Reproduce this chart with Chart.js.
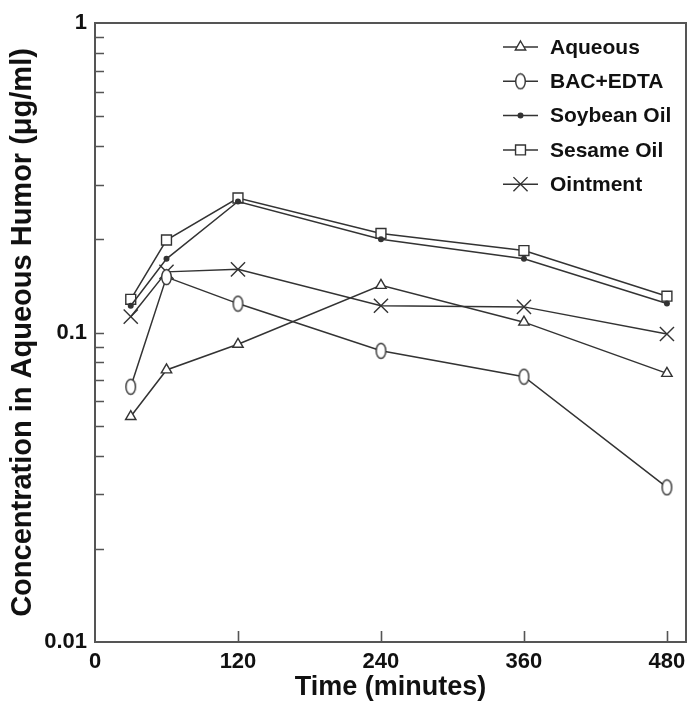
<!DOCTYPE html>
<html>
<head>
<meta charset="utf-8">
<script src="https://cdn.jsdelivr.net/npm/chart.js@4.4.1/dist/chart.umd.min.js"></script>
<style>
    html, body { margin: 0; padding: 0; background: #fff; }
    canvas { display: block; }
</style>
</head>
<body>
<canvas id="chart" width="689" height="704"></canvas>
<script>
// time points (minutes)
const times = [30, 60, 120, 240, 360, 480];

// concentrations (ug/ml)
const aqueous  = [0.0535, 0.0757, 0.0916, 0.142, 0.108, 0.0738];
const bacEdta  = [0.0668, 0.151, 0.124, 0.0873, 0.0720, 0.0316];
const soybean  = [0.122, 0.173, 0.265, 0.200, 0.173, 0.124];
const sesame   = [0.128, 0.199, 0.272, 0.209, 0.184, 0.131];
const ointment = [0.1125, 0.157, 0.160, 0.122, 0.121, 0.0989];

const seriesNames = ['Aqueous', 'BAC+EDTA', 'Soybean Oil', 'Sesame Oil', 'Ointment'];
const xTicks = [0, 120, 240, 360, 480];
const yTicks = [0.01, 0.1, 1];

const lineColor = '#333333';
const axisColor = '#555555';

// tall oval marker for BAC+EDTA
const oval = document.createElement('canvas');
oval.width = 13;
oval.height = 18;
(() => {
    const c = oval.getContext('2d');
    c.fillStyle = '#fff';
    c.strokeStyle = lineColor;
    c.lineWidth = 1.4;
    c.beginPath();
    c.ellipse(6.5, 9, 4.8, 7.5, 0, 0, Math.PI * 2);
    c.fill();
    c.stroke();
})();

function series(label, values, style, radius, fill) {
    return {
        label: label,
        data: times.map((t, i) => ({ x: t, y: values[i] })),
        borderColor: lineColor,
        borderWidth: 1.5,
        pointStyle: style,
        pointRadius: radius,
        pointBorderColor: lineColor,
        pointBackgroundColor: fill,
        pointBorderWidth: 1.4,
        pointHoverRadius: radius,
        tension: 0
    };
}

const datasets = [
    series(seriesNames[0], aqueous, 'triangle', 6, '#fff'),
    series(seriesNames[1], bacEdta, oval, 7, '#fff'),
    series(seriesNames[2], soybean, 'circle', 2.3, lineColor),
    series(seriesNames[3], sesame, 'rect', 7, '#fff'),
    series(seriesNames[4], ointment, 'crossRot', 10, '#fff')
];

// frame, inward ticks and legend
const framePlugin = {
    id: 'frame',
    afterDatasetsDraw(chart) {
        const { ctx, chartArea: a, scales } = chart;
        ctx.save();
        ctx.strokeStyle = axisColor;
        ctx.lineWidth = 2;
        ctx.strokeRect(a.left, a.top, a.right - a.left, a.bottom - a.top);

        // y minor ticks
        ctx.lineWidth = 1.6;
        ctx.beginPath();
        for (let d = 0.01; d < 1; d *= 10) {
            for (let k = 1; k <= 9; k++) {
                const v = k * d;
                if (v <= 0.01 + 1e-9) continue;
                const y = Math.round(scales.y.getPixelForValue(v)) + 0.5;
                ctx.moveTo(a.left, y);
                ctx.lineTo(a.left + 9, y);
            }
        }
        // x ticks
        xTicks.slice(1).forEach(t => {
            const x = Math.round(scales.x.getPixelForValue(t)) + 0.5;
            ctx.moveTo(x, a.bottom);
            ctx.lineTo(x, a.bottom - 11);
        });
        ctx.stroke();

        // legend
        const x0 = 503, x1 = 538, tx = 550;
        ctx.font = 'bold 21px "Liberation Sans", Arial, sans-serif';
        ctx.textBaseline = 'middle';
        chart.data.datasets.forEach((ds, i) => {
            const y = 47 + i * 34.3;
            ctx.strokeStyle = lineColor;
            ctx.lineWidth = 1.5;
            ctx.beginPath();
            ctx.moveTo(x0, y);
            ctx.lineTo(x1, y);
            ctx.stroke();
            ctx.fillStyle = ds.pointBackgroundColor;
            ctx.lineWidth = 1.4;
            Chart.helpers.drawPoint(ctx, {
                pointStyle: ds.pointStyle,
                radius: ds.pointRadius,
                borderWidth: 1.4,
                rotation: 0
            }, (x0 + x1) / 2, y);
            ctx.fillStyle = '#111';
            ctx.fillText(ds.label, tx, y + 1);
        });
        ctx.restore();
    }
};

const tickFont = { family: '"Liberation Sans", Arial, sans-serif', size: 22, weight: 'bold' };

new Chart(document.getElementById('chart'), {
    type: 'line',
    data: { datasets: datasets },
    options: {
        responsive: false,
        animation: false,
        events: [],
        layout: { autoPadding: false, padding: { top: 23, right: 3, left: 0, bottom: 0 } },
        plugins: {
            legend: { display: false },
            tooltip: { enabled: false }
        },
        scales: {
            x: {
                type: 'linear',
                min: 0,
                max: 496,
                afterBuildTicks: s => { s.ticks = xTicks.map(v => ({ value: v })); },
                afterFit: s => { s.height = 62; s.paddingLeft = 0; s.paddingRight = 0; },
                grid: { display: false, drawTicks: false },
                border: { display: false },
                ticks: { color: '#111', font: tickFont, padding: 7, maxRotation: 0 },
                title: {
                    display: true,
                    text: 'Time (minutes)',
                    color: '#111',
                    font: { family: '"Liberation Sans", Arial, sans-serif', size: 27, weight: 'bold' },
                    padding: { top: 0, bottom: 0 }
                }
            },
            y: {
                type: 'logarithmic',
                min: 0.01,
                max: 1,
                afterBuildTicks: s => { s.ticks = yTicks.map(v => ({ value: v })); },
                afterFit: s => { s.width = 95; s.paddingTop = 0; s.paddingBottom = 0; },
                grid: { display: false, drawTicks: false },
                border: { display: false },
                ticks: {
                    color: '#111',
                    font: tickFont,
                    padding: 8,
                    autoSkip: false,
                    callback: v => String(v)
                },
                title: {
                    display: true,
                    text: 'Concentration in Aqueous Humor (μg/ml)',
                    color: '#111',
                    font: { family: '"Liberation Sans", Arial, sans-serif', size: 29, weight: 'bold' },
                    padding: { top: 6, bottom: 0 }
                }
            }
        }
    },
    plugins: [framePlugin]
});
</script>
</body>
</html>
